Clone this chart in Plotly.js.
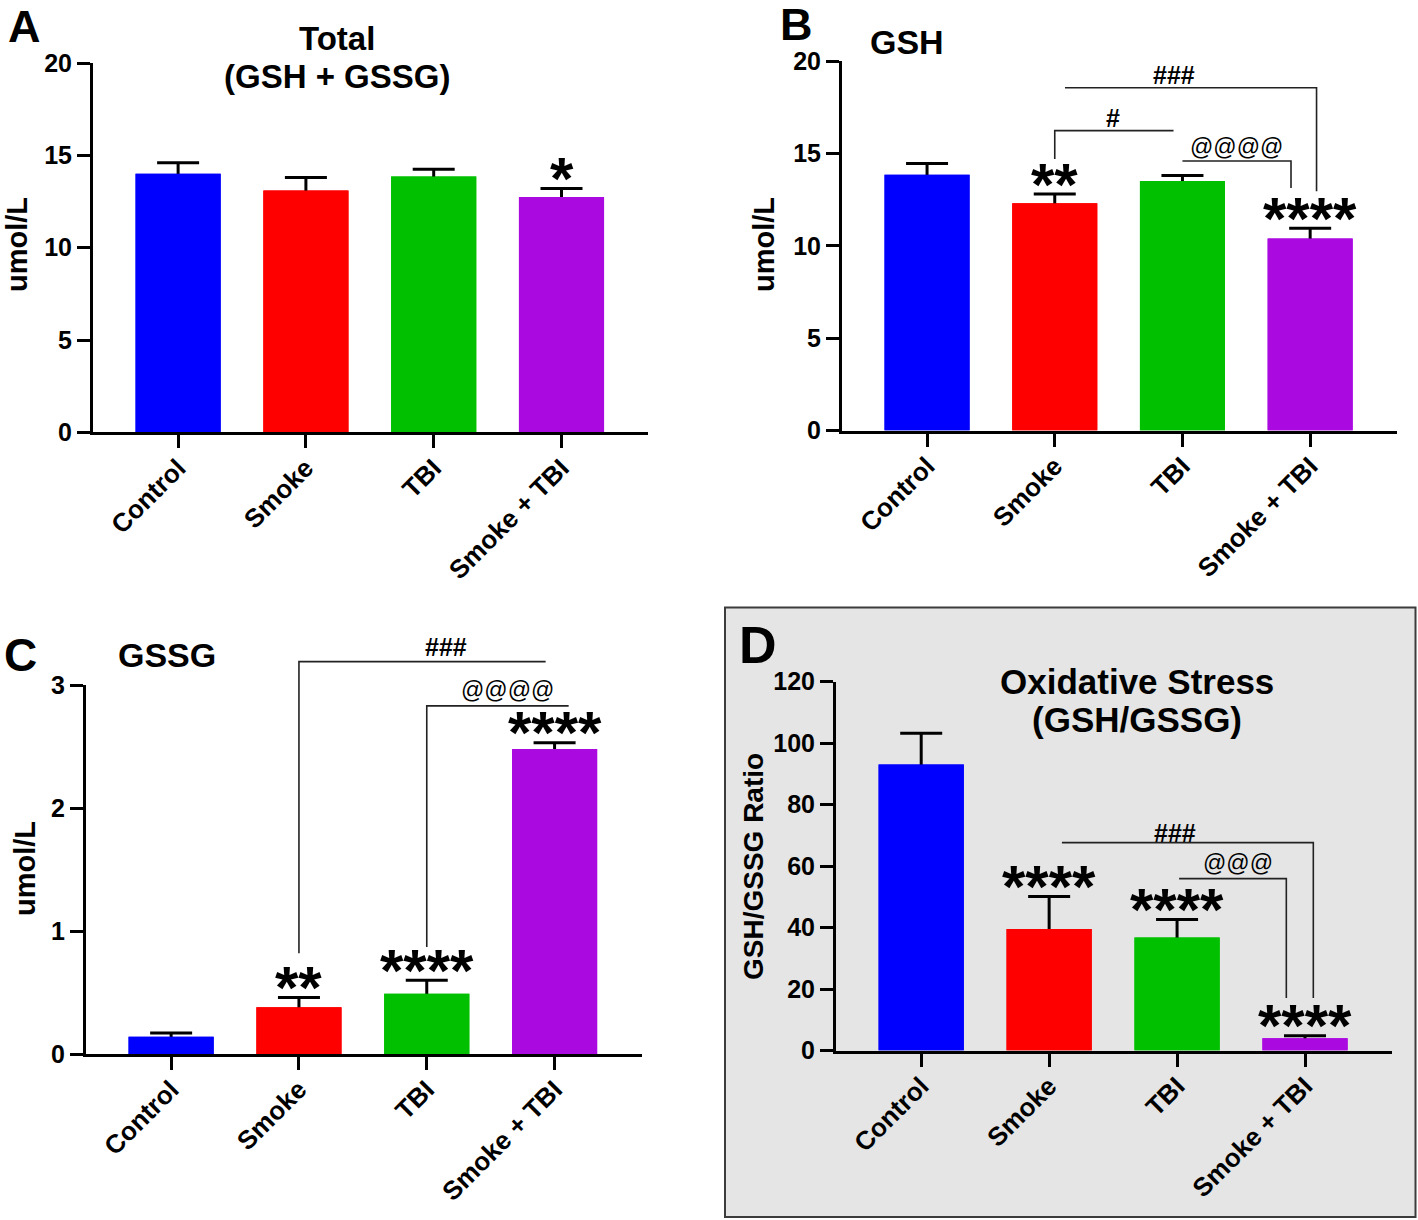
<!DOCTYPE html>
<html>
<head>
<meta charset="utf-8">
<script src="https://cdn.plot.ly/plotly-3.0.1.min.js"></script>
<style>
  body { margin: 0; background: #fff; }
  #chart { width: 1418px; height: 1220px; }
</style>
</head>
<body>
<div id="chart"></div>
<script>
// Glutathione figure, panels A-D

const groups = ['Control', 'Smoke', 'TBI', 'Smoke + TBI'];
const barColors = ['#0000ff', '#ff0000', '#00c000', '#aa0ae0'];

const totalMean = [14.0, 13.1, 13.85, 12.75];
const totalErr = [0.6, 0.7, 0.4, 0.45];
const gshMean = [13.85, 12.3, 13.5, 10.4];
const gshErr = [0.6, 0.5, 0.3, 0.55];
const gssgMean = [0.14, 0.38, 0.49, 2.48];
const gssgErr = [0.03, 0.08, 0.11, 0.05];
const ratioMean = [93.0, 39.5, 36.8, 4.0];
const ratioErr = [10.2, 10.6, 5.8, 0.8];

const starsA = ['', '', '', '*'];
const starsB = ['', '**', '', '****'];
const starsC = ['', '**', '****', '****'];
const starsD = ['', '****', '****', '****'];

// comparison brackets: polyline points [group index, value] and label
const bracketsB = [
    { pts: [[1.08, 18.55], [3.05, 18.55], [3.05, 12.95]], text: '###', at: [1.93, 19.25] },
    { pts: [[1.0, 14.7], [1.0, 16.23], [1.93, 16.23]], text: '#', at: [1.46, 16.9] },
    { pts: [[2.0, 14.59], [2.85, 14.59], [2.85, 13.13]], text: '@@@@', at: [2.42, 15.35] }
];
const bracketsC = [
    { pts: [[1.0, 0.82], [1.0, 3.19], [2.93, 3.19]], text: '###', at: [2.15, 3.31] },
    { pts: [[2.0, 0.87], [2.0, 2.83], [3.11, 2.83]], text: '@@@@', at: [2.63, 2.96] }
];
const bracketsD = [
    { pts: [[1.10, 67.6], [3.065, 67.6], [3.065, 17.1]], text: '###', at: [1.98, 70.7] },
    { pts: [[2.016, 55.9], [2.854, 55.9], [2.854, 17.1]], text: '@@@', at: [2.48, 61.0] }
];

const W = 1418, H = 1220;
const FONT = 'Arial, "Liberation Sans", sans-serif';
const xRange = [-0.666, 3.68];

// pixel boxes of the four plot areas
const panels = [
    { id: '', left: 93, right: 648.4, top: 63, bottom: 432.4, ymax: 20, dtick: 5, mean: totalMean, err: totalErr, stars: starsA, brackets: [] },
    { id: '2', left: 842, right: 1397, top: 61, bottom: 430.6, ymax: 20, dtick: 5, mean: gshMean, err: gshErr, stars: starsB, brackets: bracketsB },
    { id: '3', left: 86, right: 641.5, top: 685, bottom: 1054, ymax: 3, dtick: 1, mean: gssgMean, err: gssgErr, stars: starsC, brackets: bracketsC },
    { id: '4', left: 836, right: 1392, top: 681.5, bottom: 1050.6, ymax: 120, dtick: 20, mean: ratioMean, err: ratioErr, stars: starsD, brackets: bracketsD }
];

function px(x) { return x / W; }
function py(y) { return 1 - y / H; }

// convert a data point of a panel to paper coordinates
function dataToPaper(p, gx, v) {
    const xp = p.left + (gx - xRange[0]) / (xRange[1] - xRange[0]) * (p.right - p.left);
    const yp = p.bottom - v / p.ymax * (p.bottom - p.top);
    return [px(xp), py(yp)];
}

const traces = [];
const layout = {
    width: W,
    height: H,
    margin: { l: 0, r: 0, t: 0, b: 0 },
    paper_bgcolor: '#ffffff',
    plot_bgcolor: 'rgba(0,0,0,0)',
    showlegend: false,
    barmode: 'overlay',
    font: { family: FONT, color: '#000' },
    annotations: [],
    shapes: []
};

// grey frame behind panel D
layout.shapes.push({
    type: 'rect', xref: 'paper', yref: 'paper', layer: 'below',
    x0: px(725), x1: px(1415.5), y0: py(1217), y1: py(607.5),
    fillcolor: '#e5e5e5', line: { color: '#3c3c3c', width: 2 }
});

const tickFont = { family: FONT, size: 25, color: '#000', weight: 'bold' };

panels.forEach(function (p) {
    // bars with symmetric error bars, then the same bars on top to hide the lower half
    traces.push({
        type: 'bar', x: groups, y: p.mean,
        xaxis: 'x' + p.id, yaxis: 'y' + p.id,
        width: 0.666,
        marker: { color: barColors, line: { width: 0 } },
        error_y: { type: 'data', array: p.err, color: '#000', thickness: 3, width: 21 },
        hoverinfo: 'skip'
    });
    traces.push({
        type: 'bar', x: groups, y: p.mean,
        xaxis: 'x' + p.id, yaxis: 'y' + p.id,
        width: 0.666,
        marker: { color: barColors, line: { width: 0 } },
        hoverinfo: 'skip'
    });

    layout['xaxis' + p.id] = {
        domain: [px(p.left), px(p.right)],
        anchor: 'y' + p.id,
        range: xRange,
        showline: true, linecolor: '#000', linewidth: 3,
        ticks: 'outside', ticklen: 13, tickwidth: 3, tickcolor: '#000',
        tickangle: -45, ticklabelstandoff: -6,
        tickfont: { family: FONT, size: 26, color: '#000', weight: 'bold' },
        showgrid: false, zeroline: false, fixedrange: true
    };
    layout['yaxis' + p.id] = {
        domain: [py(p.bottom), py(p.top)],
        anchor: 'x' + p.id,
        range: [0, p.ymax],
        tick0: 0, dtick: p.dtick,
        showline: true, linecolor: '#000', linewidth: 3,
        ticks: 'outside', ticklen: 13, tickwidth: 3, tickcolor: '#000',
        tickfont: tickFont,
        showgrid: false, zeroline: false, fixedrange: true
    };

    // significance stars over the error bars
    p.stars.forEach(function (s, i) {
        if (!s) return;
        layout.annotations.push({
            xref: 'x' + p.id, yref: 'y' + p.id,
            x: i, y: p.mean[i] + p.err[i],
            text: s, showarrow: false,
            xanchor: 'center', yanchor: 'middle', yshift: 10,
            font: { family: FONT, size: 60, color: '#000', weight: 'bold' }
        });
    });

    // comparison brackets
    p.brackets.forEach(function (b) {
        const path = b.pts.map(function (pt, k) {
            const q = dataToPaper(p, pt[0], pt[1]);
            return (k === 0 ? 'M ' : 'L ') + q[0] + ' ' + q[1];
        }).join(' ');
        layout.shapes.push({
            type: 'path', xref: 'paper', yref: 'paper', path: path,
            line: { color: '#222', width: 1.6 }
        });
        const lp = dataToPaper(p, b.at[0], b.at[1]);
        const isHash = b.text.charAt(0) === '#';
        layout.annotations.push({
            xref: 'paper', yref: 'paper', x: lp[0], y: lp[1],
            text: b.text, showarrow: false,
            xanchor: 'center', yanchor: 'middle',
            font: { family: FONT, size: isHash ? 25 : 23, color: '#000', weight: isHash ? 'bold' : 'normal' }
        });
    });
});

// titles, panel letters and y-axis labels
function label(text, x, y, size, angle) {
    layout.annotations.push({
        xref: 'paper', yref: 'paper', x: px(x), y: py(y),
        text: text, showarrow: false, textangle: angle || 0,
        xanchor: 'center', yanchor: 'middle',
        font: { family: FONT, size: size, color: '#000', weight: 'bold' }
    });
}

label('A', 24, 27, 45);
label('B', 796, 25, 45);
label('C', 20, 655, 46);
label('D', 758, 645, 52);

label('Total', 337, 38, 33);
label('(GSH + GSSG)', 337, 77, 33);
label('GSH', 907, 42, 34);
label('GSSG', 167, 655, 34);
label('Oxidative Stress', 1137, 681, 35);
label('(GSH/GSSG)', 1137, 719, 35);

label('umol/L', 17, 245, 29, -90);
label('umol/L', 764, 245, 29, -90);
label('umol/L', 25, 869, 29, -90);
label('GSH/GSSG Ratio', 753, 866, 28, -90);

Plotly.newPlot('chart', traces, layout, { staticPlot: true });
</script>
</body>
</html>
